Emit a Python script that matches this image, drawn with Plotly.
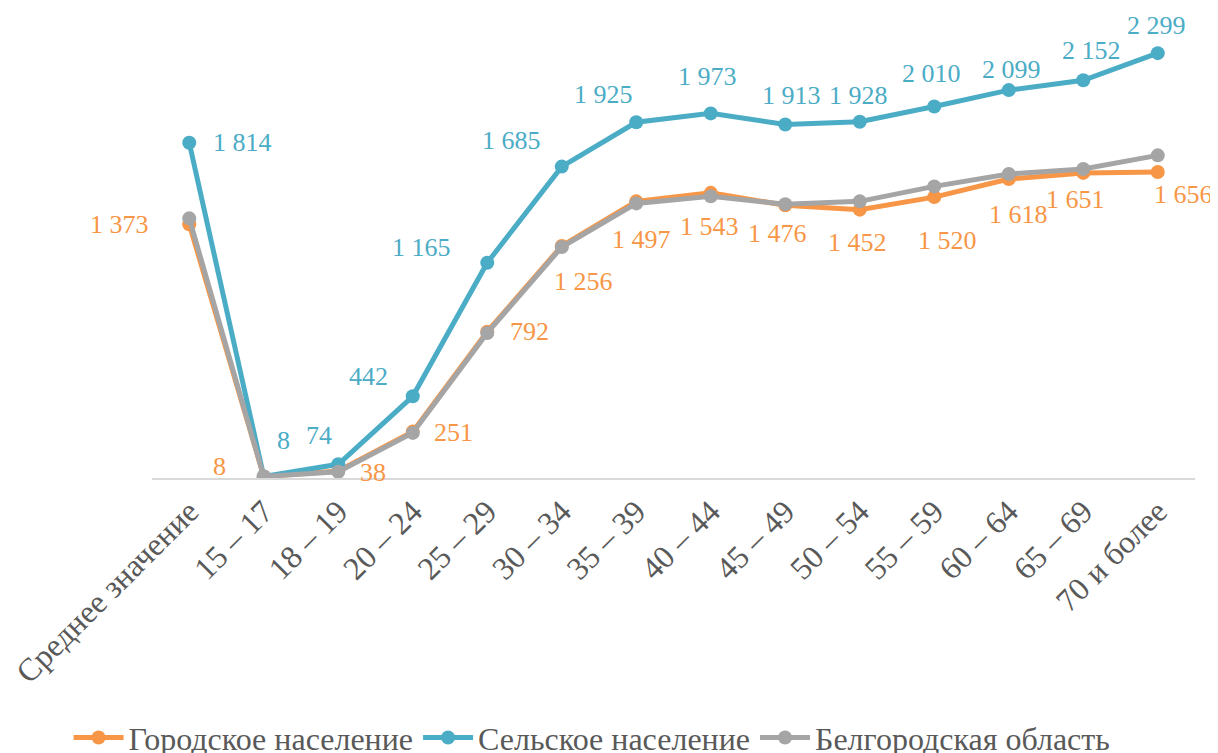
import plotly.graph_objects as go

# age groups and values
categories = ["Среднее значение", "15 – 17", "18 – 19", "20 – 24", "25 – 29", "30 – 34",
              "35 – 39", "40 – 44", "45 – 49", "50 – 54", "55 – 59", "60 – 64",
              "65 – 69", "70 и более"]
urban = [1373, 8, 38, 251, 792, 1256, 1497, 1543, 1476, 1452, 1520, 1618, 1651, 1656]
rural = [1814, 8, 74, 442, 1165, 1685, 1925, 1973, 1913, 1928, 2010, 2099, 2152, 2299]
region = [1405, 8, 34, 244, 785, 1250, 1486, 1524, 1482, 1497, 1578, 1645, 1672, 1746]

names = ["Городское население", "Сельское население", "Белгородская область"]
colors = ["#F79646", "#4BACC6", "#A5A5A5"]

# label offsets from the point, in pixels (dx right, dy down)
urban_off = [(-70, 0), (-44, -10), (35, 2), (41, 1), (42, 0), (22, 36), (5, 38), (-1, 34),
             (-8, 28), (-2, 33), (13, 43), (10, 36), (-8, 27), (26, 23)]
rural_off = [(53, 0), (20, -36), (-19, -29), (-44, -20), (-66, -15), (-50, -26), (-33, -28),
             (-3, -37), (6, -29), (-1, -26), (-3, -33), (3, -21), (8, -30), (-1, -28)]

FONT = "Liberation Serif, Times New Roman, serif"

# the page puts the plot 8px in from the top-left corner, so the figure is
# sized to what stays visible in the window
W, H = 1210, 745


def fmt(v):
    return f"{v:,}".replace(",", " ")


fig = go.Figure()
for vals, name, col in zip([urban, rural, region], names, colors):
    fig.add_trace(go.Scatter(x=categories, y=vals, name=name, mode="lines+markers",
                             line=dict(color=col, width=5), marker=dict(size=14, color=col)))

for vals, offs, col in [(urban, urban_off, colors[0]), (rural, rural_off, colors[1])]:
    for cat, v, (dx, dy) in zip(categories, vals, offs):
        fig.add_annotation(x=cat, y=v, text=fmt(v), showarrow=False, xshift=dx, yshift=-dy,
                           font=dict(size=26, family=FONT, color=col))

fig.update_xaxes(type="category", range=[-0.5, 13.5], tickangle=-45, showgrid=False,
                 showline=True, linecolor="#D9D9D9", linewidth=2, ticks="", automargin=False,
                 tickfont=dict(size=32, family=FONT, color="#595959"))
fig.update_yaxes(range=[0, 2500], visible=False, automargin=False)
fig.update_layout(width=W, height=H, plot_bgcolor="white", paper_bgcolor="white",
                  margin=dict(l=144, r=23, t=8, b=275, autoexpand=False), showlegend=True,
                  font=dict(family=FONT, color="#595959"),
                  legend=dict(orientation="h", x=-0.08, xanchor="left", y=-0.562, yanchor="middle",
                              itemwidth=50,
                              font=dict(size=32, family=FONT, color="#595959")))

fig.write_html("out.html")
